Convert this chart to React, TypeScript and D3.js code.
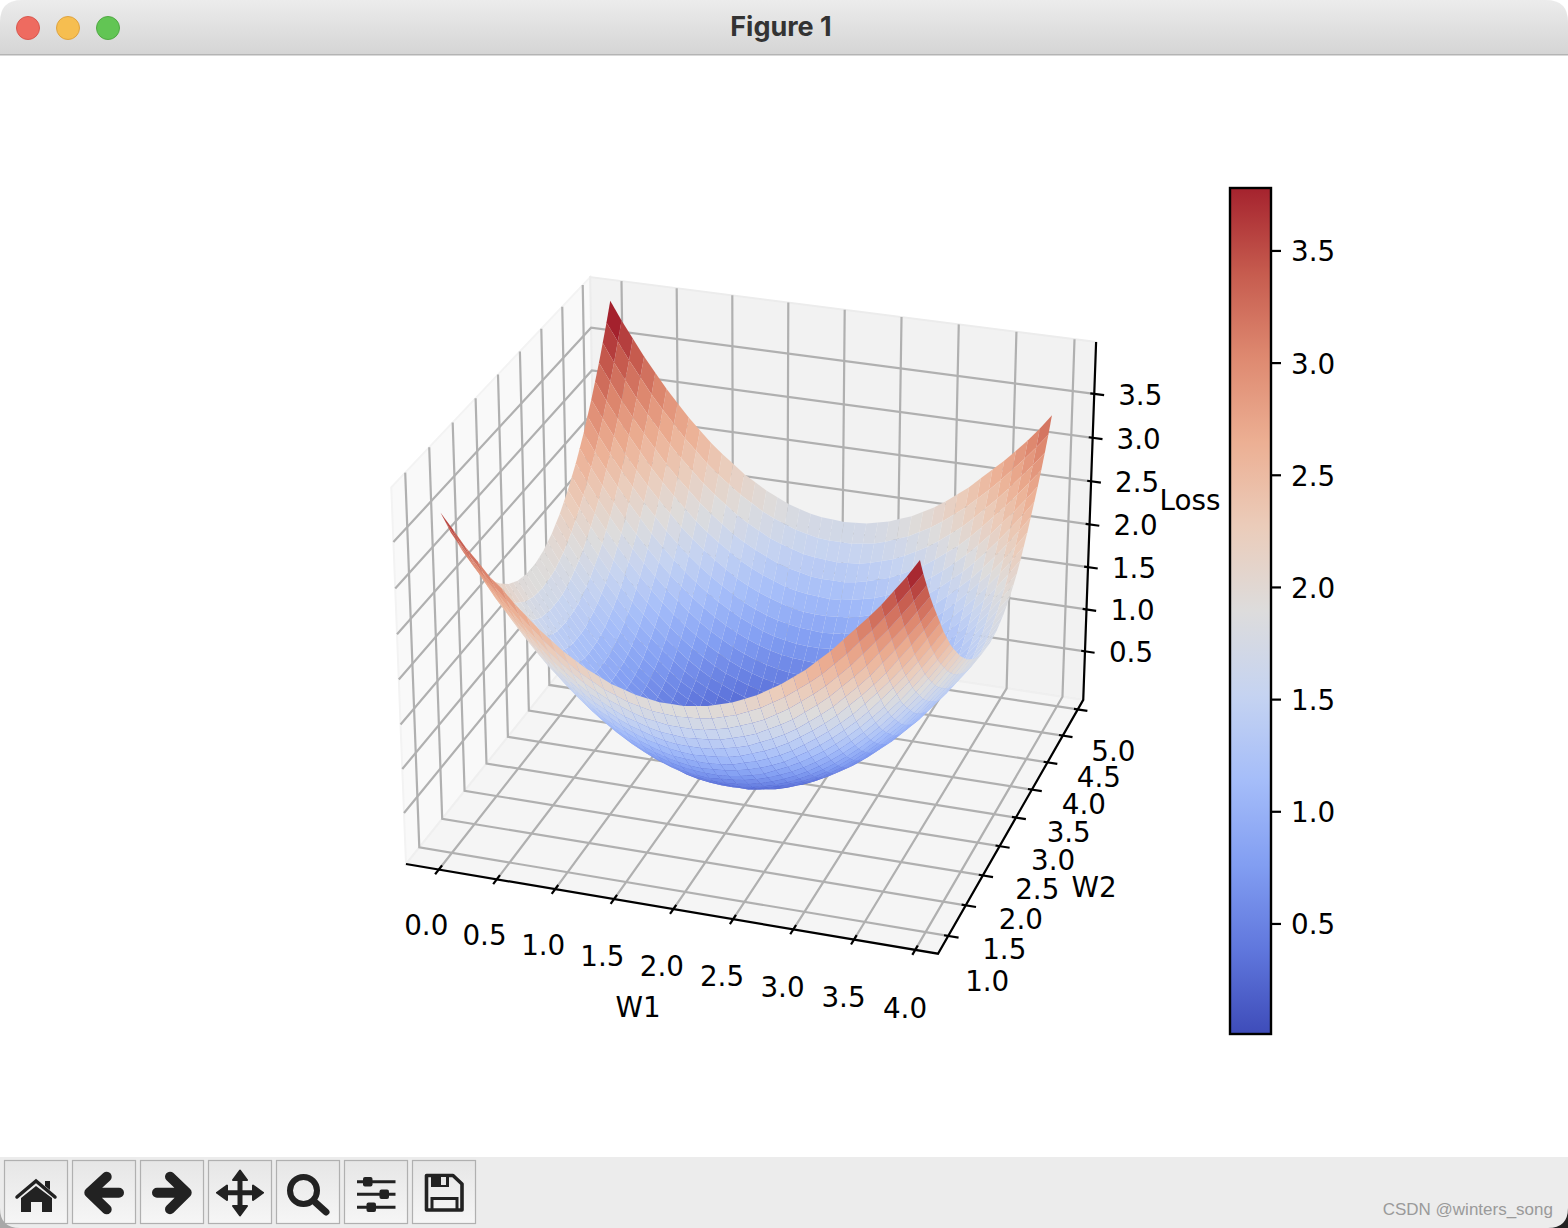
import * as d3 from 'd3';

const w1Values = [0, 0.1, 0.2, 0.3, 0.4, 0.5, 0.6, 0.7, 0.8, 0.9, 1, 1.1, 1.2, 1.3, 1.4, 1.5, 1.6, 1.7, 1.8, 1.9, 2, 2.1, 2.2, 2.3, 2.4, 2.5, 2.6, 2.7, 2.8, 2.9, 3, 3.1, 3.2, 3.3, 3.4, 3.5, 3.6, 3.7, 3.8, 3.9];
const w2Values = [1, 1.1, 1.2, 1.3, 1.4, 1.5, 1.6, 1.7, 1.8, 1.9, 2, 2.1, 2.2, 2.3, 2.4, 2.5, 2.6, 2.7, 2.8, 2.9, 3, 3.1, 3.2, 3.3, 3.4, 3.5, 3.6, 3.7, 3.8, 3.9, 4, 4.1, 4.2, 4.3, 4.4, 4.5, 4.6, 4.7, 4.8, 4.9];

// Loss x 100, one row per W2, one column per W1. (corner heights, edge colours),
// smoothed by hand into a bowl, so single cells are not exact readings.
const lossHundredths = [
  [371, 355, 338, 324, 309, 298, 284, 272, 260, 250, 240, 232, 224, 218, 212, 208, 204, 202, 200, 200, 200, 202, 204, 208, 212, 218, 224, 232, 240, 250, 260, 272, 284, 298, 312, 326, 341, 358, 375, 394],
  [355, 337, 321, 306, 292, 279, 265, 253, 241, 231, 221, 212, 205, 198, 193, 188, 185, 182, 181, 180, 181, 182, 184, 188, 192, 198, 204, 212, 220, 230, 240, 251, 264, 277, 292, 306, 322, 338, 356, 374],
  [338, 321, 305, 290, 276, 261, 247, 235, 223, 213, 203, 194, 187, 180, 175, 170, 166, 164, 162, 162, 162, 163, 166, 169, 174, 179, 185, 193, 201, 211, 221, 232, 245, 258, 273, 288, 303, 320, 337, 356],
  [324, 306, 290, 275, 259, 244, 231, 218, 206, 196, 186, 177, 170, 163, 157, 153, 149, 146, 145, 144, 145, 146, 148, 152, 156, 161, 168, 175, 183, 193, 203, 214, 227, 240, 254, 270, 286, 302, 320, 338],
  [309, 292, 276, 259, 243, 229, 215, 202, 190, 180, 170, 161, 154, 147, 141, 137, 133, 130, 128, 128, 128, 129, 132, 135, 139, 145, 151, 158, 166, 176, 186, 197, 210, 223, 237, 253, 269, 286, 303, 322],
  [298, 279, 261, 244, 229, 214, 200, 187, 176, 165, 155, 146, 139, 132, 126, 121, 118, 115, 113, 112, 113, 114, 116, 119, 124, 129, 135, 142, 151, 160, 170, 181, 194, 207, 221, 236, 253, 270, 288, 307],
  [284, 265, 247, 231, 215, 200, 186, 173, 162, 151, 141, 132, 124, 118, 112, 107, 103, 100, 99, 98, 98, 99, 101, 105, 109, 114, 120, 127, 136, 145, 155, 166, 178, 192, 206, 221, 237, 254, 273, 292],
  [272, 253, 235, 218, 202, 187, 173, 161, 149, 138, 128, 119, 111, 104, 99, 94, 90, 87, 85, 84, 85, 86, 88, 91, 95, 100, 106, 114, 122, 131, 141, 152, 164, 177, 192, 207, 223, 240, 258, 277],
  [260, 241, 223, 206, 190, 176, 162, 149, 137, 126, 116, 107, 99, 92, 86, 82, 78, 75, 73, 72, 72, 73, 75, 78, 82, 88, 94, 101, 109, 118, 128, 139, 151, 164, 178, 194, 210, 227, 245, 264],
  [250, 231, 213, 196, 180, 165, 151, 138, 126, 115, 105, 96, 88, 81, 75, 70, 66, 63, 61, 60, 61, 62, 64, 67, 71, 76, 82, 89, 97, 106, 116, 127, 139, 152, 166, 181, 197, 214, 232, 251],
  [240, 221, 203, 186, 170, 155, 141, 128, 116, 105, 95, 86, 78, 71, 65, 60, 56, 53, 51, 50, 50, 51, 53, 56, 60, 65, 71, 78, 86, 95, 105, 116, 128, 141, 155, 170, 186, 203, 221, 240],
  [232, 212, 194, 177, 161, 146, 132, 119, 107, 96, 86, 77, 69, 62, 56, 51, 47, 44, 42, 41, 41, 41, 43, 46, 50, 55, 61, 68, 76, 85, 95, 106, 118, 131, 145, 160, 176, 193, 211, 230],
  [224, 205, 187, 170, 154, 139, 124, 111, 99, 88, 78, 69, 61, 54, 48, 43, 38, 35, 33, 32, 32, 33, 35, 38, 42, 47, 52, 59, 67, 76, 86, 97, 109, 122, 136, 151, 166, 183, 201, 220],
  [218, 198, 180, 163, 147, 132, 118, 104, 92, 81, 71, 62, 54, 47, 40, 35, 31, 28, 26, 25, 25, 25, 27, 30, 34, 39, 45, 51, 59, 68, 78, 89, 101, 114, 127, 142, 158, 175, 193, 212],
  [212, 193, 175, 157, 141, 126, 112, 99, 86, 75, 65, 56, 48, 40, 34, 29, 25, 22, 19, 18, 18, 19, 21, 23, 27, 32, 38, 45, 52, 61, 71, 82, 94, 106, 120, 135, 151, 168, 185, 204],
  [208, 188, 170, 153, 137, 121, 107, 94, 82, 70, 60, 51, 43, 35, 29, 24, 20, 16, 14, 13, 13, 13, 15, 18, 22, 26, 32, 39, 47, 55, 65, 76, 88, 100, 114, 129, 145, 161, 179, 198],
  [204, 185, 166, 149, 133, 118, 103, 90, 78, 66, 56, 47, 38, 31, 25, 20, 15, 12, 10, 8, 8, 9, 10, 13, 17, 22, 27, 34, 42, 50, 60, 71, 82, 95, 109, 124, 139, 156, 174, 192],
  [202, 182, 164, 146, 130, 115, 100, 87, 75, 63, 53, 44, 35, 28, 22, 16, 12, 9, 6, 5, 5, 5, 7, 9, 13, 18, 23, 30, 38, 46, 56, 67, 78, 91, 105, 119, 135, 152, 169, 188],
  [200, 181, 162, 145, 128, 113, 99, 85, 73, 61, 51, 42, 33, 26, 19, 14, 10, 6, 4, 2, 2, 3, 4, 7, 10, 15, 21, 27, 35, 43, 53, 64, 75, 88, 101, 116, 132, 148, 166, 184],
  [200, 180, 162, 144, 128, 112, 98, 84, 72, 60, 50, 41, 32, 25, 18, 13, 8, 5, 2, 1, 1, 1, 3, 5, 9, 13, 19, 25, 33, 41, 51, 62, 73, 86, 99, 114, 129, 146, 163, 182],
  [200, 181, 162, 145, 128, 113, 98, 85, 72, 61, 50, 41, 32, 25, 18, 13, 8, 5, 2, 1, 0, 1, 2, 5, 8, 13, 18, 25, 32, 41, 50, 61, 72, 85, 98, 113, 128, 145, 162, 181],
  [202, 182, 163, 146, 129, 114, 99, 86, 73, 62, 51, 41, 33, 25, 19, 13, 9, 5, 3, 1, 1, 1, 2, 5, 8, 13, 18, 25, 32, 41, 50, 60, 72, 84, 98, 112, 128, 144, 162, 180],
  [204, 184, 166, 148, 132, 116, 101, 88, 75, 64, 53, 43, 35, 27, 21, 15, 10, 7, 4, 3, 2, 2, 4, 6, 10, 14, 19, 26, 33, 42, 51, 61, 73, 85, 99, 113, 128, 145, 162, 181],
  [208, 188, 169, 152, 135, 119, 105, 91, 78, 67, 56, 46, 38, 30, 23, 18, 13, 9, 7, 5, 5, 5, 6, 9, 12, 16, 22, 28, 35, 44, 53, 63, 75, 87, 100, 115, 130, 146, 164, 182],
  [212, 192, 174, 156, 139, 124, 109, 95, 82, 71, 60, 50, 42, 34, 27, 22, 17, 13, 10, 9, 8, 8, 10, 12, 15, 20, 25, 31, 38, 47, 56, 66, 78, 90, 103, 118, 133, 149, 166, 185],
  [218, 198, 179, 161, 145, 129, 114, 100, 88, 76, 65, 55, 47, 39, 32, 26, 22, 18, 15, 13, 13, 13, 14, 16, 20, 24, 29, 35, 43, 51, 60, 70, 82, 94, 107, 121, 137, 153, 170, 188],
  [224, 204, 185, 168, 151, 135, 120, 106, 94, 82, 71, 61, 52, 45, 38, 32, 27, 23, 21, 19, 18, 18, 19, 22, 25, 29, 34, 40, 48, 56, 65, 75, 86, 99, 112, 126, 141, 157, 175, 193],
  [232, 212, 193, 175, 158, 142, 127, 114, 101, 89, 78, 68, 59, 51, 45, 39, 34, 30, 27, 25, 25, 25, 26, 28, 31, 35, 40, 47, 54, 62, 71, 81, 92, 104, 118, 132, 147, 163, 180, 198],
  [240, 220, 201, 183, 166, 151, 136, 122, 109, 97, 86, 76, 67, 59, 52, 47, 42, 38, 35, 33, 32, 32, 33, 35, 38, 43, 48, 54, 61, 69, 78, 88, 99, 111, 124, 139, 154, 170, 187, 205],
  [250, 230, 211, 193, 176, 160, 145, 131, 118, 106, 95, 85, 76, 68, 61, 55, 50, 46, 43, 41, 41, 41, 42, 44, 47, 51, 56, 62, 69, 77, 86, 96, 107, 119, 132, 146, 161, 177, 194, 212],
  [260, 240, 221, 203, 186, 170, 155, 141, 128, 116, 105, 95, 86, 78, 71, 65, 60, 56, 53, 51, 50, 50, 51, 53, 56, 60, 65, 71, 78, 86, 95, 105, 116, 128, 141, 155, 170, 186, 203, 221],
  [272, 251, 232, 214, 197, 181, 166, 152, 139, 127, 116, 106, 97, 89, 82, 76, 71, 67, 64, 62, 61, 60, 61, 63, 66, 70, 75, 81, 88, 96, 105, 115, 126, 138, 151, 165, 180, 196, 213, 231],
  [284, 264, 245, 227, 210, 194, 178, 164, 151, 139, 128, 118, 109, 101, 94, 88, 82, 78, 75, 73, 72, 72, 73, 75, 78, 82, 86, 92, 99, 107, 116, 126, 137, 149, 162, 176, 190, 206, 223, 241],
  [298, 277, 258, 240, 223, 207, 192, 177, 164, 152, 141, 131, 122, 114, 106, 100, 95, 91, 88, 86, 85, 84, 85, 87, 90, 94, 99, 104, 111, 119, 128, 138, 149, 161, 173, 187, 202, 218, 235, 253],
  [312, 292, 273, 254, 237, 221, 206, 192, 178, 166, 155, 145, 136, 127, 120, 114, 109, 105, 101, 99, 98, 98, 99, 100, 103, 107, 112, 118, 124, 132, 141, 151, 162, 173, 186, 200, 215, 231, 247, 265],
  [328, 307, 288, 270, 253, 236, 221, 207, 194, 181, 170, 160, 151, 142, 135, 129, 124, 119, 116, 114, 113, 112, 113, 115, 118, 121, 126, 132, 139, 146, 155, 165, 176, 187, 200, 214, 229, 244, 260, 277],
  [344, 324, 304, 286, 269, 253, 237, 223, 210, 197, 186, 176, 166, 158, 151, 145, 139, 135, 132, 129, 128, 128, 128, 130, 133, 137, 141, 147, 154, 161, 170, 180, 190, 202, 215, 229, 243, 258, 274, 290],
  [362, 341, 322, 303, 286, 270, 254, 240, 227, 214, 203, 193, 183, 175, 168, 161, 156, 152, 148, 146, 145, 144, 145, 146, 149, 153, 157, 163, 170, 177, 186, 196, 206, 218, 231, 244, 258, 273, 288, 304],
  [380, 360, 340, 322, 304, 288, 273, 258, 245, 232, 221, 211, 201, 193, 185, 179, 174, 169, 166, 163, 162, 162, 162, 164, 166, 170, 175, 180, 187, 194, 203, 213, 223, 235, 247, 260, 274, 288, 303, 319],
  [400, 379, 360, 341, 324, 307, 292, 277, 264, 251, 240, 230, 220, 212, 204, 198, 192, 188, 184, 182, 181, 180, 181, 182, 185, 188, 193, 198, 205, 212, 221, 231, 241, 253, 265, 277, 290, 304, 319, 336],
];

const xTicks = [0, 0.5, 1, 1.5, 2, 2.5, 3, 3.5, 4];
const yTicks = [1, 1.5, 2, 2.5, 3, 3.5, 4, 4.5, 5];
const zTicks = [0.5, 1, 1.5, 2, 2.5, 3, 3.5];
const barTicks = [0.5, 1, 1.5, 2, 2.5, 3, 3.5];

const xLim: [number, number] = [-0.285, 4.185];
const yLim: [number, number] = [0.715, 5.185];
const zLim: [number, number] = [-0.085, 4.085];
const barLim: [number, number] = [0.005, 3.785];

// coolwarm as it shows up in the screenshot
const coolwarm = ['#3e4cb9', '#6077dd', '#829ef2', '#a5bdf9', '#c5d3f1', '#dddcdc', '#ebccba', '#ecaf93', '#de8970', '#c65b4e', '#a5232e'];

const ELEV = (26.5 * Math.PI) / 180;
const AZIM = (-71.7 * Math.PI) / 180;
const DIST = 10;

const box = [1.1905, 1.1905, 0.8929];
const toBoxX = d3.scaleLinear().domain(xLim).range([0, box[0]]);
const toBoxY = d3.scaleLinear().domain(yLim).range([0, box[1]]);
const toBoxZ = d3.scaleLinear().domain(zLim).range([0, box[2]]);

const n = [Math.cos(ELEV) * Math.cos(AZIM), Math.cos(ELEV) * Math.sin(AZIM), Math.sin(ELEV)];
const uu = [-Math.sin(AZIM), Math.cos(AZIM), 0];
const vv = [n[1] * uu[2] - n[2] * uu[1], n[2] * uu[0] - n[0] * uu[2], n[0] * uu[1] - n[1] * uu[0]];

function camera(x: number, y: number, z: number) {
  const p = [toBoxX(x) - box[0] / 2, toBoxY(y) - box[1] / 2, toBoxZ(z) - box[2] / 2];
  const xc = d3.sum(p.map((d, i) => d * uu[i]));
  const yc = d3.sum(p.map((d, i) => d * vv[i]));
  const zc = d3.sum(p.map((d, i) => d * n[i]));
  const w = DIST - zc;
  return { x: xc / w, y: yc / w, depth: w };
}

// pin the cube to the picture through its corners
const leftCorner = camera(xLim[0], yLim[0], zLim[0]);
const frontCorner = camera(xLim[1], yLim[0], zLim[0]);
const topRight = camera(xLim[1], yLim[1], zLim[1]);
const px = d3.scaleLinear().domain([leftCorner.x, frontCorner.x]).range([406, 938]);
const py = d3.scaleLinear().domain([leftCorner.y, topRight.y]).range([864, 342]);

const pt = (x: number, y: number, z: number): [number, number] => {
  const c = camera(x, y, z);
  return [px(c.x), py(c.y)];
};
const line3 = (pts: [number, number, number][]) => d3.line()(pts.map(p => pt(p[0], p[1], p[2]))) as string;
const closed3 = (pts: [number, number, number][]) => line3(pts) + 'Z';

const colorOf = d3.scaleLinear<string>()
  .domain(d3.range(11).map(i => barLim[0] + (i / 10) * (barLim[1] - barLim[0])))
  .range(coolwarm);

const fmt = d3.format('.1f');
const [x0, x1] = xLim;
const [y0, y1] = yLim;
const [z0, z1] = zLim;

// surface cells, far ones first
const cells = d3.range(w2Values.length - 1).flatMap(j =>
  d3.range(w1Values.length - 1).map(i => {
    const corners: [number, number, number][] = [
      [w1Values[i], w2Values[j], lossHundredths[j][i] / 100],
      [w1Values[i + 1], w2Values[j], lossHundredths[j][i + 1] / 100],
      [w1Values[i + 1], w2Values[j + 1], lossHundredths[j + 1][i + 1] / 100],
      [w1Values[i], w2Values[j + 1], lossHundredths[j + 1][i] / 100],
    ];
    return {
      d: closed3(corners),
      depth: d3.mean(corners, c => camera(c[0], c[1], c[2]).depth) as number,
      value: d3.mean(corners, c => c[2]) as number,
    };
  })
).sort((a, b) => d3.descending(a.depth, b.depth));

const barY = d3.scaleLinear().domain(barLim).range([1035, 187]);

const FONT = '"DejaVu Sans"';
const TICK_SIZE = 27.78;
const buttonStarts = [4, 72, 140, 208, 276, 344, 412];

function Toolbar() {
  const ink = '#222222';
  return (
    <g>
      <rect x={0} y={1157} width={1568} height={71} fill="#ececec" />
      {buttonStarts.map(x => (
        <rect key={x} x={x + 0.5} y={1160.5} width={63} height={63} fill="url(#btn)" stroke="#b0b0b0" strokeWidth={1.2} />
      ))}
      {/* home */}
      <path d="M17 1197 L36 1181 L55 1197" fill="none" stroke={ink} strokeWidth={3.5} strokeLinecap="round" />
      <path d="M21 1198 L36 1186 L52 1198 V1212 H42 V1202 H31 V1212 H21 Z" fill={ink} />
      <path d="M45 1181 H50 V1190 L45 1186 Z" fill={ink} />
      {/* back / forward */}
      <path d="M106.7 1176.7 L89.3 1192.7 L106.7 1209.3 M95 1192.7 H119" fill="none" stroke={ink} strokeWidth={10} strokeLinecap="round" strokeLinejoin="round" />
      <path d="M170 1176.7 L186.7 1192.7 L170 1209.3 M181 1192.7 H157" fill="none" stroke={ink} strokeWidth={10} strokeLinecap="round" strokeLinejoin="round" />
      {/* pan */}
      <path d="M240 1175 V1211 M222 1192.7 H258" stroke={ink} strokeWidth={5} />
      <path d="M240 1170.5 L247 1180 H233 Z M240 1215.5 L247 1206 H233 Z M217 1192.7 L227 1185.5 V1200 Z M263 1192.7 L253 1185.5 V1200 Z" fill={ink} stroke={ink} strokeWidth={2} strokeLinejoin="round" />
      {/* zoom */}
      <circle cx={303.5} cy={1190.5} r={13.5} fill="none" stroke={ink} strokeWidth={6} />
      <path d="M316 1203 L326 1212" stroke={ink} strokeWidth={7} strokeLinecap="round" />
      {/* sliders */}
      <path d="M357 1181.7 H395.5 M357 1194.3 H395.5 M357 1207.3 H395.5" stroke={ink} strokeWidth={3} />
      <rect x={363} y={1177} width={9.5} height={9.5} rx={2} fill={ink} />
      <rect x={379.5} y={1189.5} width={9.5} height={9.5} rx={2} fill={ink} />
      <rect x={366.5} y={1202.5} width={9.5} height={9.5} rx={2} fill={ink} />
      {/* save */}
      <path d="M426.5 1175.5 H453 L462 1184 V1210 H426.5 Z" fill="none" stroke={ink} strokeWidth={3.6} strokeLinejoin="round" />
      <rect x={431} y={1176} width={18} height={11} fill={ink} />
      <rect x={441} y={1177} width={5} height={8} fill="#e8e8e8" />
      <path d="M432 1210 V1198.5 H457 V1210" fill="none" stroke={ink} strokeWidth={3} />
    </g>
  );
}

export default function App() {
  return (
    <svg width={1568} height={1228} style={{ position: 'absolute', left: 0, top: 0, display: 'block' }}>
      <defs>
        <linearGradient id="title" x1="0" x2="0" y1="0" y2="1">
          <stop offset="0%" stopColor="#ececec" />
          <stop offset="100%" stopColor="#d5d5d5" />
        </linearGradient>
        <linearGradient id="btn" x1="0" x2="0" y1="0" y2="1">
          <stop offset="0%" stopColor="#e6e6e6" />
          <stop offset="100%" stopColor="#f6f6f6" />
        </linearGradient>
        <linearGradient id="bar" x1="0" x2="0" y1="1" y2="0">
          {coolwarm.map((c, i) => <stop key={i} offset={`${i * 10}%`} stopColor={c} />)}
        </linearGradient>
      </defs>
      <rect width={1568} height={1228} fill="#ffffff" />

      {/* title bar */}
      <path d="M0 54 V22 Q0 0 22 0 H1546 Q1568 0 1568 22 V54 Z" fill="url(#title)" />
      <rect x={0} y={54} width={1568} height={1.5} fill="#b4b4b4" />
      <circle cx={28} cy={28} r={11.5} fill="#ee6b60" stroke="#d9584f" strokeWidth={1} />
      <circle cx={68} cy={28} r={11.5} fill="#f6be50" stroke="#dfa33f" strokeWidth={1} />
      <circle cx={108} cy={28} r={11.5} fill="#62c554" stroke="#50a943" strokeWidth={1} />
      <text x={781} y={36} textAnchor="middle" fontFamily="Inter" fontWeight={700} fontSize={27} fill="#333333">Figure 1</text>

      {/* panes */}
      <path d={closed3([[x0, y0, z0], [x0, y1, z0], [x0, y1, z1], [x0, y0, z1]])} fill="#f9f9f9" stroke="#f3f3f3" strokeWidth={2} />
      <path d={closed3([[x0, y1, z0], [x1, y1, z0], [x1, y1, z1], [x0, y1, z1]])} fill="#f2f2f2" stroke="#ececec" strokeWidth={2} />
      <path d={closed3([[x0, y0, z0], [x1, y0, z0], [x1, y1, z0], [x0, y1, z0]])} fill="#f5f5f5" stroke="#efefef" strokeWidth={2} />

      {/* grid */}
      <g fill="none" stroke="#b0b0b0" strokeWidth={2.2}>
        {xTicks.map(t => <path key={t} d={line3([[t, y0, z0], [t, y1, z0], [t, y1, z1]])} />)}
        {yTicks.map(t => <path key={t} d={line3([[x1, t, z0], [x0, t, z0], [x0, t, z1]])} />)}
        {zTicks.map(t => <path key={t} d={line3([[x0, y0, t], [x0, y1, t], [x1, y1, t]])} />)}
      </g>

      {/* axis lines and ticks */}
      <g fill="none" stroke="#000000" strokeWidth={2.2}>
        <path d={line3([[x0, y0, z0], [x1, y0, z0], [x1, y1, z0], [x1, y1, z1]])} />
        {xTicks.map(t => <path key={t} d={line3([[t, y0 + 0.07, z0], [t, y0 - 0.08, z0]])} />)}
        {yTicks.map(t => <path key={t} d={line3([[x1 - 0.034, t, z0], [x1 + 0.085, t, z0]])} />)}
        {zTicks.map(t => <path key={t} d={line3([[x1 - 0.034, y1, t], [x1 + 0.085, y1, t]])} />)}
      </g>

      <g fontFamily={FONT} fontSize={TICK_SIZE} textAnchor="middle" dominantBaseline="central" fill="#000000">
        {xTicks.map(t => {
          const [a, b] = pt(t, y0 - 0.4, z0 - 0.35);
          return <text key={t} x={a + 5} y={b + 2}>{fmt(t)}</text>;
        })}
        {yTicks.map(t => {
          const [a, b] = pt(x1 + 0.31, t, z0 - 0.44);
          return <text key={t} x={a + 2} y={b}>{fmt(t)}</text>;
        })}
        {zTicks.map(t => {
          const [a, b] = pt(x1, y1, t);
          return <text key={t} x={a + 46} y={b + 1.5}>{fmt(t)}</text>;
        })}
        <text x={638} y={1007}>W1</text>
        <text x={1094} y={887}>W2</text>
        <text x={1190} y={500}>Loss</text>
      </g>

      {/* surface */}
      <g>
        {cells.map((c, i) => <path key={i} d={c.d} fill={colorOf(c.value)} />)}
      </g>

      {/* colorbar */}
      <rect x={1230} y={188} width={41} height={846} fill="url(#bar)" stroke="#000000" strokeWidth={2.4} />
      <g stroke="#000000" strokeWidth={2.2}>
        {barTicks.map(t => <line key={t} x1={1271} x2={1281} y1={barY(t)} y2={barY(t)} />)}
      </g>
      <g fontFamily={FONT} fontSize={TICK_SIZE} dominantBaseline="central" fill="#000000">
        {barTicks.map(t => <text key={t} x={1291} y={barY(t) + 1}>{fmt(t)}</text>)}
      </g>

      <Toolbar />
      <path d="M1568 1208 V1228 H1548 Q1568 1228 1568 1208 Z" fill="#222222" />
      <path d="M0 1208 V1228 H20 Q0 1228 0 1208 Z" fill="#a8a8a8" />
      <text x={1553} y={1215} textAnchor="end" fontFamily="Liberation Sans" fontSize={17} fill="#9a9a9a">CSDN @winters_song</text>
    </svg>
  );
}
